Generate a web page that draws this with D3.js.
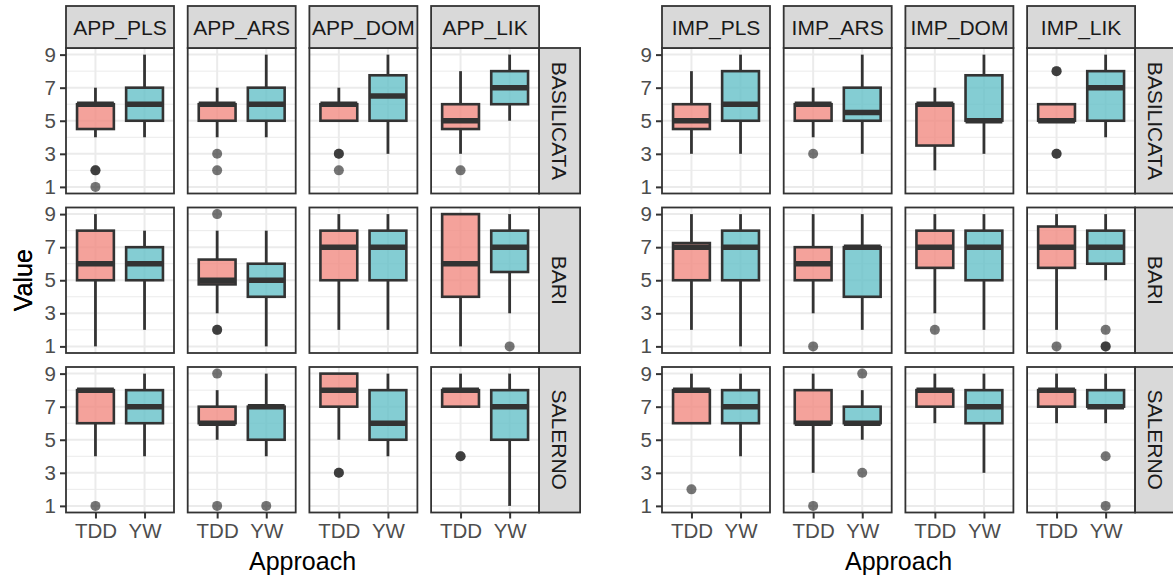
<!DOCTYPE html>
<html lang="en">
<head>
<meta charset="UTF-8">
<title>Boxplots by approach</title>
<script src="https://cdn.jsdelivr.net/npm/d3@7"></script>
<style>
  body { margin: 0; background: #fff; }
  svg { font-family: "Liberation Sans", Arial, Helvetica, sans-serif; }
</style>
</head>
<body>
<svg width="1173" height="581" id="mainsvg"></svg>
<script>
const regions = ['BASILICATA', 'BARI', 'SALERNO']
const approaches = ['TDD', 'YW']
const appMetrics = ['APP_PLS', 'APP_ARS', 'APP_DOM', 'APP_LIK']
const impMetrics = ['IMP_PLS', 'IMP_ARS', 'IMP_DOM', 'IMP_LIK']
const yTicks = [1, 3, 5, 7, 9]

// metric, region, approach, lower whisker, q1, median, q3, upper whisker
const appBoxes = [
  ['APP_PLS', 'BASILICATA', 'TDD', 4, 4.5, 6, 6, 7], ['APP_PLS', 'BASILICATA', 'YW', 4, 5, 6, 7, 9],
  ['APP_ARS', 'BASILICATA', 'TDD', 4, 5, 6, 6, 7], ['APP_ARS', 'BASILICATA', 'YW', 4, 5, 6, 7, 9],
  ['APP_DOM', 'BASILICATA', 'TDD', 5, 5, 6, 6, 7], ['APP_DOM', 'BASILICATA', 'YW', 3, 5, 6.5, 7.75, 9],
  ['APP_LIK', 'BASILICATA', 'TDD', 3, 4.5, 5, 6, 8], ['APP_LIK', 'BASILICATA', 'YW', 5, 6, 7, 8, 9],
  ['APP_PLS', 'BARI', 'TDD', 1, 5, 6, 8, 9], ['APP_PLS', 'BARI', 'YW', 2, 5, 6, 7, 8],
  ['APP_ARS', 'BARI', 'TDD', 3, 4.75, 5, 6.25, 8], ['APP_ARS', 'BARI', 'YW', 1, 4, 5, 6, 8],
  ['APP_DOM', 'BARI', 'TDD', 2, 5, 7, 8, 9], ['APP_DOM', 'BARI', 'YW', 2, 5, 7, 8, 9],
  ['APP_LIK', 'BARI', 'TDD', 1, 4, 6, 9, 9], ['APP_LIK', 'BARI', 'YW', 3, 5.5, 7, 8, 9],
  ['APP_PLS', 'SALERNO', 'TDD', 4, 6, 8, 8, 8], ['APP_PLS', 'SALERNO', 'YW', 4, 6, 7, 8, 9],
  ['APP_ARS', 'SALERNO', 'TDD', 5, 6, 6, 7, 8], ['APP_ARS', 'SALERNO', 'YW', 4, 5, 7, 7, 9],
  ['APP_DOM', 'SALERNO', 'TDD', 5, 7, 8, 9, 9], ['APP_DOM', 'SALERNO', 'YW', 4, 5, 6, 8, 9],
  ['APP_LIK', 'SALERNO', 'TDD', 7, 7, 8, 8, 9], ['APP_LIK', 'SALERNO', 'YW', 1, 5, 7, 8, 9]
]
// metric, region, approach, value
const appOutliers = [
  ['APP_PLS', 'BASILICATA', 'TDD', 2], ['APP_PLS', 'BASILICATA', 'TDD', 2], ['APP_PLS', 'BASILICATA', 'TDD', 1],
  ['APP_ARS', 'BASILICATA', 'TDD', 3], ['APP_ARS', 'BASILICATA', 'TDD', 2],
  ['APP_DOM', 'BASILICATA', 'TDD', 3], ['APP_DOM', 'BASILICATA', 'TDD', 3], ['APP_DOM', 'BASILICATA', 'TDD', 2],
  ['APP_LIK', 'BASILICATA', 'TDD', 2],
  ['APP_ARS', 'BARI', 'TDD', 9], ['APP_ARS', 'BARI', 'TDD', 2], ['APP_ARS', 'BARI', 'TDD', 2],
  ['APP_LIK', 'BARI', 'YW', 1],
  ['APP_PLS', 'SALERNO', 'TDD', 1],
  ['APP_ARS', 'SALERNO', 'TDD', 9], ['APP_ARS', 'SALERNO', 'TDD', 1], ['APP_ARS', 'SALERNO', 'YW', 1],
  ['APP_DOM', 'SALERNO', 'TDD', 3], ['APP_DOM', 'SALERNO', 'TDD', 3],
  ['APP_LIK', 'SALERNO', 'TDD', 4], ['APP_LIK', 'SALERNO', 'TDD', 4]
]

const impBoxes = [
  ['IMP_PLS', 'BASILICATA', 'TDD', 3, 4.5, 5, 6, 8], ['IMP_PLS', 'BASILICATA', 'YW', 3, 5, 6, 8, 9],
  ['IMP_ARS', 'BASILICATA', 'TDD', 4, 5, 6, 6, 7], ['IMP_ARS', 'BASILICATA', 'YW', 3, 5, 5.5, 7, 9],
  ['IMP_DOM', 'BASILICATA', 'TDD', 2, 3.5, 6, 6, 7], ['IMP_DOM', 'BASILICATA', 'YW', 3, 5, 5, 7.75, 9],
  ['IMP_LIK', 'BASILICATA', 'TDD', 5, 5, 5, 6, 6], ['IMP_LIK', 'BASILICATA', 'YW', 4, 5, 7, 8, 9],
  ['IMP_PLS', 'BARI', 'TDD', 2, 5, 7, 7.25, 9], ['IMP_PLS', 'BARI', 'YW', 1, 5, 7, 8, 9],
  ['IMP_ARS', 'BARI', 'TDD', 3, 5, 6, 7, 9], ['IMP_ARS', 'BARI', 'YW', 2, 4, 7, 7, 9],
  ['IMP_DOM', 'BARI', 'TDD', 3, 5.75, 7, 8, 9], ['IMP_DOM', 'BARI', 'YW', 2, 5, 7, 8, 9],
  ['IMP_LIK', 'BARI', 'TDD', 2, 5.75, 7, 8.25, 9], ['IMP_LIK', 'BARI', 'YW', 5, 6, 7, 8, 9],
  ['IMP_PLS', 'SALERNO', 'TDD', 6, 6, 8, 8, 9], ['IMP_PLS', 'SALERNO', 'YW', 4, 6, 7, 8, 9],
  ['IMP_ARS', 'SALERNO', 'TDD', 3, 6, 6, 8, 9], ['IMP_ARS', 'SALERNO', 'YW', 5, 6, 6, 7, 8],
  ['IMP_DOM', 'SALERNO', 'TDD', 6, 7, 8, 8, 9], ['IMP_DOM', 'SALERNO', 'YW', 3, 6, 7, 8, 9],
  ['IMP_LIK', 'SALERNO', 'TDD', 6, 7, 8, 8, 9], ['IMP_LIK', 'SALERNO', 'YW', 6, 7, 7, 8, 9]
]
const impOutliers = [
  ['IMP_ARS', 'BASILICATA', 'TDD', 3],
  ['IMP_LIK', 'BASILICATA', 'TDD', 8], ['IMP_LIK', 'BASILICATA', 'TDD', 8],
  ['IMP_LIK', 'BASILICATA', 'TDD', 3], ['IMP_LIK', 'BASILICATA', 'TDD', 3],
  ['IMP_ARS', 'BARI', 'TDD', 1],
  ['IMP_DOM', 'BARI', 'TDD', 2],
  ['IMP_LIK', 'BARI', 'TDD', 1], ['IMP_LIK', 'BARI', 'YW', 2], ['IMP_LIK', 'BARI', 'YW', 1], ['IMP_LIK', 'BARI', 'YW', 1],
  ['IMP_PLS', 'SALERNO', 'TDD', 2],
  ['IMP_ARS', 'SALERNO', 'TDD', 1], ['IMP_ARS', 'SALERNO', 'YW', 9], ['IMP_ARS', 'SALERNO', 'YW', 3],
  ['IMP_LIK', 'SALERNO', 'YW', 4], ['IMP_LIK', 'SALERNO', 'YW', 1]
]

const svg = d3.select('#mainsvg')
const fillColor = d3.scaleOrdinal().domain(approaches).range(['#F18B82', '#65C0C8'])

const pw = 108, ph = 145.5
const colStep = 121.7, rowStep = 159.5
const topY = 48, stripH = 42, stripW = 41

const yScale = d3.scaleLinear().domain([0.6, 9.4]).range([ph, 0])
const xScale = d3.scalePoint().domain(approaches).range([0, pw]).padding(0.6)
const boxW = xScale.step() * 0.75

function drawGrid(left, metrics, boxes, outliers) {
  const root = svg.append('g').attr('transform', `translate(${left},${topY})`)

  regions.forEach((region, r) => {
    metrics.forEach((metric, c) => {
      const g = root.append('g').attr('transform', `translate(${c * colStep},${r * rowStep})`)

      // grid
      d3.range(2, 9, 2).forEach(v => {
        g.append('line').attr('x1', 0).attr('x2', pw).attr('y1', yScale(v)).attr('y2', yScale(v))
          .attr('stroke', '#EBEBEB').attr('stroke-width', 1)
      })
      yTicks.forEach(v => {
        g.append('line').attr('x1', 0).attr('x2', pw).attr('y1', yScale(v)).attr('y2', yScale(v))
          .attr('stroke', '#EBEBEB').attr('stroke-width', 2)
      })
      approaches.forEach(a => {
        g.append('line').attr('x1', xScale(a)).attr('x2', xScale(a)).attr('y1', 0).attr('y2', ph)
          .attr('stroke', '#EBEBEB').attr('stroke-width', 2)
      })

      // boxes
      boxes.filter(b => b[0] === metric && b[1] === region).forEach(b => {
        const [, , a, lo, q1, med, q3, hi] = b
        const cx = xScale(a)
        g.append('line').attr('x1', cx).attr('x2', cx).attr('y1', yScale(hi)).attr('y2', yScale(q3))
          .attr('stroke', '#333').attr('stroke-width', 2.8)
        g.append('line').attr('x1', cx).attr('x2', cx).attr('y1', yScale(q1)).attr('y2', yScale(lo))
          .attr('stroke', '#333').attr('stroke-width', 2.8)
        g.append('rect').attr('x', cx - boxW / 2).attr('width', boxW)
          .attr('y', yScale(q3)).attr('height', yScale(q1) - yScale(q3))
          .attr('fill', fillColor(a)).attr('fill-opacity', 0.8)
          .attr('stroke', '#333').attr('stroke-width', 2.6)
        g.append('line').attr('x1', cx - boxW / 2).attr('x2', cx + boxW / 2)
          .attr('y1', yScale(med)).attr('y2', yScale(med))
          .attr('stroke', '#333').attr('stroke-width', 5.5)
      })

      // outliers
      g.selectAll('.outlier').data(outliers.filter(o => o[0] === metric && o[1] === region))
        .enter().append('circle').attr('class', 'outlier')
        .attr('cx', d => xScale(d[2])).attr('cy', d => yScale(d[3])).attr('r', 5)
        .attr('fill', '#1a1a1a').attr('fill-opacity', 0.6)

      g.append('rect').attr('width', pw).attr('height', ph)
        .attr('fill', 'none').attr('stroke', '#333').attr('stroke-width', 1.8)

      // top strips
      if (r === 0) {
        g.append('rect').attr('y', -stripH).attr('width', pw).attr('height', stripH)
          .attr('fill', '#D9D9D9').attr('stroke', '#333').attr('stroke-width', 1.8)
        g.append('text').text(metric).attr('x', pw / 2).attr('y', -stripH / 2 + 7.5)
          .attr('text-anchor', 'middle').attr('font-size', 21).attr('fill', '#1A1A1A')
      }
      // right strips
      if (c === metrics.length - 1) {
        g.append('rect').attr('x', pw).attr('width', stripW).attr('height', ph)
          .attr('fill', '#D9D9D9').attr('stroke', '#333').attr('stroke-width', 1.8)
        g.append('text').text(region)
          .attr('transform', `translate(${pw + stripW / 2 - 7.5},${ph / 2}) rotate(90)`)
          .attr('text-anchor', 'middle').attr('font-size', 21).attr('fill', '#1A1A1A')
      }
      // y axis
      if (c === 0) {
        const yAxis = d3.axisLeft(yScale).tickValues(yTicks).tickSize(6).tickPadding(4)
        const ax = g.append('g').call(yAxis)
        ax.select('.domain').remove()
        ax.selectAll('.tick line').attr('stroke', '#333').attr('stroke-width', 2)
        ax.selectAll('.tick text').attr('font-size', 20.5).attr('fill', '#4D4D4D')
        ax.attr('font-family', null)
      }
      // x axis
      if (r === regions.length - 1) {
        const xAxis = d3.axisBottom(xScale).tickSize(6).tickPadding(5)
        const ax = g.append('g').attr('transform', `translate(0,${ph})`).call(xAxis)
        ax.select('.domain').remove()
        ax.selectAll('.tick line').attr('stroke', '#333').attr('stroke-width', 2)
        ax.selectAll('.tick text').attr('font-size', 20.5).attr('fill', '#4D4D4D')
        ax.attr('font-family', null)
      }
    })
  })

  const gridW = (metrics.length - 1) * colStep + pw
  const gridH = (regions.length - 1) * rowStep + ph
  root.append('text').text('Approach').attr('x', gridW / 2).attr('y', 570 - topY)
    .attr('text-anchor', 'middle').attr('font-size', 25).attr('fill', '#000')
  root.append('text').text('Value')
    .attr('transform', `translate(${32 - left},${gridH / 2}) rotate(-90)`)
    .attr('text-anchor', 'middle').attr('font-size', 25).attr('fill', '#000')
}

drawGrid(66, appMetrics, appBoxes, appOutliers)
drawGrid(662, impMetrics, impBoxes, impOutliers)
</script>
</body>
</html>
